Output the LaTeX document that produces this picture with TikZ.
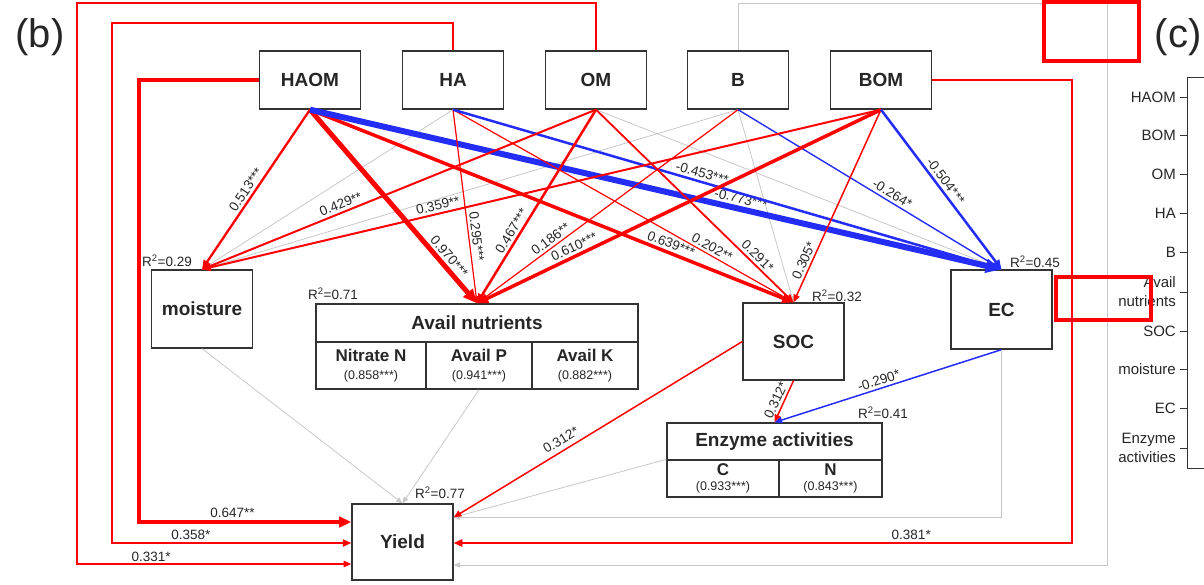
\documentclass[tikz,border=0pt]{standalone}
\usepackage{fontspec}
\setmainfont{Liberation Sans}
\usetikzlibrary{arrows.meta}
\definecolor{pathred}{RGB}{255,0,0}
\definecolor{pathblue}{RGB}{35,45,245}
\definecolor{pathgrey}{RGB}{200,200,200}
\newcommand\valfont{\mdseries\fontsize{12.5}{13}\selectfont}
\begin{document}
\begin{tikzpicture}[x=1pt, y=-1pt, line join=miter, text=black!85,
	>={Triangle[length=5pt 1.8, width=4pt 1.6]},
	box/.style={draw=black!80, line width=1.3pt, fill=white, minimum width=101pt, minimum height=58pt, inner sep=0pt, font=\fontsize{19}{19}\selectfont\bfseries},
	cell/.style={draw=black!80, line width=1.3pt, fill=white, inner sep=0pt, align=center, font=\fontsize{17}{17}\selectfont\bfseries},
	head/.style={cell, font=\fontsize{19}{19}\selectfont\bfseries},
	pospath/.style={pathred, ->},
	negpath/.style={pathblue, ->},
	nspath/.style={pathgrey, line width=0.8pt, ->},
	lab/.style={sloped, above, inner sep=2.5pt, text=black!85, font=\fontsize{13.5}{13.5}\selectfont},
	flatlab/.style={above, inner sep=2pt, text=black!85, font=\fontsize{13.5}{13.5}\selectfont},
	rsq/.style={inner sep=0pt, font=\fontsize{13.5}{13.5}\selectfont},
	ticklab/.style={anchor=east, align=right, inner sep=0pt, font=\fontsize{15}{19}\selectfont}]
	\useasboundingbox (0,0) rectangle (1204,584);
	\node[font=\fontsize{40}{40}\selectfont] (panelb) at (40,37) {(b)};
	\node[font=\fontsize{40}{40}\selectfont] (panelc) at (1178,37) {(c)};
	% variables
	\node[box] (HAOM) at (310,80) {HAOM};
	\node[box] (HA) at (453,80) {HA};
	\node[box] (OM) at (596,80) {OM};
	\node[box] (B) at (738,80) {B};
	\node[box] (BOM) at (881,80) {BOM};
	\node[box, minimum height=78pt] (moisture) at (202,309) {moisture};
	\node[box, minimum height=77pt] (SOC) at (793.5,341.5) {SOC};
	\node[box, minimum height=79pt] (EC) at (1001.5,309.5) {EC};
	\node[box, minimum height=76pt] (Yield) at (402.5,542) {Yield};
	\node[head, minimum width=322pt, minimum height=38pt] (nutr) at (477,323) {Avail nutrients};
	\node[cell, minimum width=110pt, minimum height=47pt] (nitrate) at (371,365.5) {Nitrate N\\[1pt]{\valfont (0.858***)}};
	\node[cell, minimum width=106pt, minimum height=47pt] (availP) at (479,365.5) {Avail P\\[1pt]{\valfont (0.941***)}};
	\node[cell, minimum width=106pt, minimum height=47pt] (availK) at (585,365.5) {Avail K\\[1pt]{\valfont (0.882***)}};
	\node[head, minimum width=215pt, minimum height=37pt] (enz) at (774.5,441.5) {Enzyme activities};
	\node[cell, minimum width=112pt, minimum height=37pt] (enzC) at (723,478.5) {C\\[-2pt]{\valfont (0.933***)}};
	\node[cell, minimum width=103pt, minimum height=37pt] (enzN) at (830.5,478.5) {N\\[-2pt]{\valfont (0.843***)}};
	\node[rsq] (r-moist) at (167,261) {R\textsuperscript{2}=0.29};
	\node[rsq] (r-nutr) at (333,294) {R\textsuperscript{2}=0.71};
	\node[rsq] (r-soc) at (837,296) {R\textsuperscript{2}=0.32};
	\node[rsq] (r-ec) at (1035,262) {R\textsuperscript{2}=0.45};
	\node[rsq] (r-enz) at (883,413) {R\textsuperscript{2}=0.41};
	\node[rsq] (r-yield) at (440,493) {R\textsuperscript{2}=0.77};
	% paths from the top row
	\draw[nspath] (HA.south) -- (moisture.north);
	\draw[nspath] (B.south) -- (moisture.north);
	\draw[nspath] (B.south) -- (SOC.north);
	\draw[nspath] (OM.south) -- (EC.north);
	\draw[pospath, line width=2.3pt] (HAOM.south) -- (moisture.north) node[lab, pos=0.53]{0.513***};
	\draw[pospath, line width=5pt] (HAOM.south) -- (nutr.north) node[lab, pos=0.79]{0.970***};
	\draw[pospath, line width=3.5pt] (HAOM.south) -- (SOC.north) node[lab, pos=0.74]{0.639***};
	\draw[negpath, line width=6pt] (HAOM.south) -- (EC.north) node[lab, pos=0.62]{-0.773***};
	\draw[pospath, line width=1.2pt] (HA.south) -- (nutr.north) node[lab, pos=0.66]{0.295***};
	\draw[pospath, line width=1.2pt] (HA.south) -- (SOC.north) node[lab, pos=0.75]{0.202**};
	\draw[negpath, line width=2.5pt] (HA.south) -- (EC.north) node[lab, pos=0.45]{-0.453***};
	\draw[pospath, line width=2pt] (OM.south) -- (moisture.north) node[lab, pos=0.64]{0.429**};
	\draw[pospath, line width=2.5pt] (OM.south) -- (nutr.north) node[lab, pos=0.65]{0.467***};
	\draw[pospath, line width=1.8pt] (OM.south) -- (SOC.north) node[lab, pos=0.79]{0.291*};
	\draw[pospath, line width=1.2pt] (B.south) -- (nutr.north) node[lab, pos=0.70]{0.186**};
	\draw[negpath, line width=1.4pt] (B.south) -- (EC.north) node[lab, pos=0.57]{-0.264*};
	\draw[pospath, line width=2pt] (BOM.south) -- (moisture.north) node[lab, pos=0.65]{0.359**};
	\draw[pospath, line width=3.5pt] (BOM.south) -- (nutr.north) node[lab, pos=0.75]{0.610***};
	\draw[pospath, line width=1.5pt] (BOM.south) -- (SOC.north) node[lab, pos=0.80]{0.305*};
	\draw[negpath, line width=2.5pt] (BOM.south) -- (EC.north) node[lab, pos=0.48]{-0.504***};
	% paths to enzymes and yield
	\draw[pospath, line width=1.5pt] (SOC.south) -- (enz.north) node[lab, pos=0.55]{0.312*};
	\draw[negpath, line width=1.5pt] (EC.south) -- (enz.north) node[lab, pos=0.53]{-0.290*};
	\draw[nspath] (moisture.south) -- (Yield.north);
	\draw[nspath] (availP.south) -- (Yield.north);
	\draw[nspath] (enzC.north west) -- ([yshift=-14pt]Yield.north east);
	\draw[nspath] (EC.south) |- ([yshift=-14pt]Yield.north east);
	\draw[pospath, line width=1.5pt] (SOC.west) -- ([yshift=-14pt]Yield.north east) node[lab, pos=0.61, inner sep=5pt]{0.312*};
	\draw[pospath, line width=4pt] (HAOM.west) -| (139,522) -- (Yield.west |- 0,522) node[flatlab, pos=0.44]{0.647**};
	\draw[pospath, line width=2pt] (HA.north) |- (112,23) -- (112,543) -- (Yield.west |- 0,543) node[flatlab, pos=0.33]{0.358*};
	\draw[pospath, line width=1.5pt] (OM.north) |- (77,3) -- (77,564) -- (Yield.west |- 0,564) node[flatlab, pos=0.27]{0.331*};
	\draw[nspath] (B.north) |- (1107,3) -- (1107,565) -- (Yield.east |- 0,565);
	\draw[pospath, line width=2pt] (BOM.east) -| (1072,543) -- (Yield.east |- 0,543) node[flatlab, pos=0.26]{0.381*};
	% panel (c) axis
	\draw[black!80, line width=1pt] (1204,77) -- (1187,77) -- (1187,468) -- (1204,468);
	\foreach \lbl/\yy in {HAOM/97, BOM/135, OM/174, HA/213, B/252, {Avail\\nutrients}/292, SOC/331, moisture/369, EC/408, {Enzyme\\activities}/448}{
		\draw[black!80, line width=1pt] (1180,\yy) -- (1187,\yy);
		\node[ticklab] (tick-\yy) at (1176,\yy) {\lbl};
	}
	\draw[pathred, line width=4pt] (1044,2) rectangle (1139,61);
	\draw[pathred, line width=4pt] (1056,277) rectangle (1151,320);
\end{tikzpicture}
\end{document}
